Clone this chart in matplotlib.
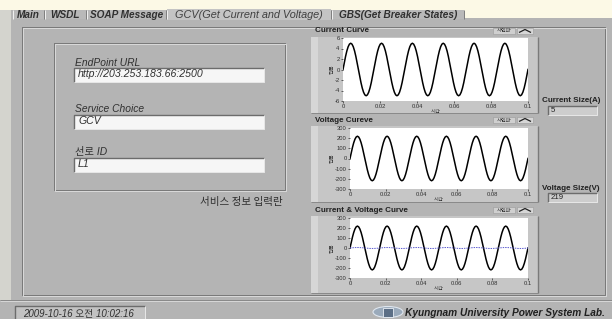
import numpy as np
import matplotlib
matplotlib.use('Agg')
import matplotlib.pyplot as plt
from matplotlib.patches import Rectangle, Ellipse

plt.rcParams['font.family'] = ['Liberation Sans', 'Noto Sans CJK KR']
KR = ['Noto Sans CJK KR', 'DejaVu Sans']

W, H = 612, 319

# one 60 Hz cycle (24 samples)
current_cycle = [0, 1.29, 2.5, 3.54, 4.33, 4.83, 5, 4.83, 4.33, 3.54, 2.5, 1.29,
                 0, -1.29, -2.5, -3.54, -4.33, -4.83, -5, -4.83, -4.33, -3.54, -2.5, -1.29]
voltage_cycle = [0, 56.7, 109.5, 154.9, 189.7, 211.5, 219, 211.5, 189.7, 154.9, 109.5, 56.7,
                 0, -56.7, -109.5, -154.9, -189.7, -211.5, -219, -211.5, -189.7, -154.9, -109.5, -56.7]
n_cycles = 6
current_a = current_cycle * n_cycles + [0]
voltage_v = voltage_cycle * n_cycles + [0]
t_end = 0.1

x_ticks = [0, 0.02, 0.04, 0.06, 0.08, 0.1]
x_tick_labels = ['0', '0.02', '0.04', '0.06', '0.08', '0.1']
current_ticks = [-6, -4, -2, 0, 2, 4, 6]
voltage_ticks = [-300, -200, -100, 0, 100, 200, 300]

tab_names = ['Main', 'WSDL', 'SOAP Message', 'GCV(Get Current and Voltage)', 'GBS(Get Breaker States)']
active_tab = 3
field_labels = ['EndPoint URL', 'Service Choice', '선로 ID']
field_values = ['http://203.253.183.66:2500', 'GCV', 'L1']
graph_titles = ['Current Curve', 'Voltage Cureve', 'Current & Voltage Curve']
current_size = '5'
voltage_size = '219'
timestamp = '2009-10-16 오전 10:02:16'
lab_name = 'Kyungnam University Power System Lab.'

PANEL = '#b4b4b4'
DARK = '#6c6c6c'
LIGHT = '#e6e6e6'

fig = plt.figure(figsize=(W / 100, H / 100), dpi=100, facecolor=PANEL)
bg = fig.add_axes([0, 0, 1, 1])
bg.set_xlim(0, W)
bg.set_ylim(H, 0)
bg.axis('off')


def rect(x0, y0, x1, y1, fc, ec='none', lw=0.7, z=1):
    bg.add_patch(Rectangle((x0, y0), x1 - x0, y1 - y0, facecolor=fc,
                           edgecolor=ec, linewidth=lw, zorder=z))


def line(xs, ys, c, lw=0.72, z=2):
    bg.plot(xs, ys, color=c, lw=lw, zorder=z, solid_capstyle='butt')


def sunken(x0, y0, x1, y1, fc):
    rect(x0, y0, x1, y1, fc)
    line([x0, x0, x1], [y1, y0, y0], DARK, 1.0)
    line([x0, x1, x1], [y1, y1, y0], LIGHT)


def etched(x0, y0, x1, y1):
    line([x0, x1, x1, x0, x0], [y0, y0, y1, y1, y0], '#7a7a7a')
    line([x0 + 1, x1 + 1, x1 + 1, x0 + 1, x0 + 1], [y0 + 1, y0 + 1, y1 + 1, y1 + 1, y0 + 1], '#d8d8d8')


def px_axes(x0, y0, x1, y1):
    return fig.add_axes([x0 / W, 1 - y1 / H, (x1 - x0) / W, (y1 - y0) / H])


# top strip (page behind the screenshot)
rect(0, 0, W, 10, '#fcf9e6')
rect(463, 0, W, 18, '#fcf9e6')

# left light strip
rect(0, 10, 11, 300, '#d4d4ce')

# tabs
tab_x = [(13, 44), (45, 86), (87, 166), (167, 331), (332, 464)]
for i, (name, (xa, xb)) in enumerate(zip(tab_names, tab_x)):
    if i == active_tab:
        rect(xa, 9, xb, 20, '#c4c4c4', z=3)
        col, wt, fs = '#404040', 'normal', 7.8
    else:
        rect(xa, 10, xb, 19, '#b9b9b9', z=2)
        col, wt, fs = '#303030', 'bold', 7.2
    line([xa, xa], [19, 10], '#f0f0f0', z=4)
    line([xb, xb], [19, 10], '#808080', z=4)
    bg.text((xa + xb) / 2, 14.5, name, fontsize=fs, style='italic', weight=wt,
            color=col, ha='center', va='center', zorder=5)

# outer frame
etched(22, 27, 605, 295)

# status bar
line([0, W], [300, 300], '#8a8a8a')
line([0, W], [301, 301], '#d6d6d6')
sunken(15, 306, 145, 320, '#c2c2c2')
bg.text(23, 313.5, timestamp, fontsize=7.0, style='italic', color='#303030', va='center')

# logo + lab name
bg.add_patch(Ellipse((388, 312), 30, 11, facecolor='#9aaabb', edgecolor='#dfe6ee', lw=0.8, zorder=3))
bg.add_patch(Rectangle((383, 308), 10, 9, facecolor='#5c6f86', edgecolor='#e8eef4', lw=0.6, zorder=4))
bg.text(405, 313.5, lab_name, fontsize=7.3, style='italic', weight='bold', color='#202020', va='center')

# service input box
etched(54, 43, 285, 190)
for i, (lab, val) in enumerate(zip(field_labels, field_values)):
    yl = [63, 110, 153][i]
    bg.text(75, yl + 2.5, lab, fontsize=7.4, style='italic', color='#303030', va='baseline')
    sunken(74, yl + 5, 264, yl + 19, '#f6f6f6')
    bg.text(78, yl + 11, val, fontsize=7.6, style='italic', color='#303030', va='center')
bg.text(283, 202, '서비스 정보 입력란', fontsize=7.6, family=KR, color='#303030',
        ha='right', va='center', style='italic')

# graph panels
panel_y = [(37, 113), (126, 202), (216, 293)]
plot_box = [(343, 38, 528, 101), (350, 128, 528, 189), (350, 218, 528, 278)]
for i, ((ya, yb), title) in enumerate(zip(panel_y, graph_titles)):
    rect(311, ya, 538, yb, '#c6c6c6')
    rect(311, ya, 318, yb, '#d6d6d6')
    line([538, 538], [ya, yb], '#7a7a7a', 1.0)
    line([311, 538], [yb, yb], '#8a8a8a')
    ty = ya - 6
    bg.text(315, ty, title, fontsize=5.8, weight='bold', color='#202020', va='center')
    # "사인파" legend button
    rect(493, ty - 3, 515, ty + 3, '#cfcfcf', ec='#9a9a9a', lw=0.4, z=3)
    bg.text(504, ty, '사인파', fontsize=3.8, family=KR, color='#303030', ha='center', va='center', zorder=4)
    rect(517, ty - 3, 533, ty + 3, '#d6d6d6', ec='#9a9a9a', lw=0.4, z=3)
    line([519, 525, 531], [ty + 1.5, ty - 1.5, ty + 1.5], '#202020', 0.9, z=4)

# right column indicators
for lab, val, yl in [('Current Size(A)', current_size, 101), ('Voltage Size(V)', voltage_size, 188)]:
    bg.text(542, yl, lab, fontsize=5.8, weight='bold', color='#202020', va='center')
    sunken(548, yl + 5, 597, yl + 14, '#cdcdcd')
    bg.text(551, yl + 9.5, val, fontsize=5.6, color='#202020', va='center')

# waveform graphs
t = np.arange(len(current_a)) * (t_end / (len(current_a) - 1))
series = [[(current_a, 'black', '-')], [(voltage_v, 'black', '-')],
          [(voltage_v, 'black', '-'), (current_a, '#5a5ad0', (0, (1.5, 1)))]]
yticks = [current_ticks, voltage_ticks, voltage_ticks]
for box, ser, yt in zip(plot_box, series, yticks):
    ax = px_axes(*box)
    ax.set_facecolor('white')
    for y, c, ls in ser:
        ax.plot(t, y, color=c, lw=1.1 if c == 'black' else 0.7, ls=ls)
    ax.set_xlim(0, t_end)
    ax.set_ylim(yt[0], yt[-1])
    ax.set_xticks(x_ticks)
    ax.set_xticklabels(x_tick_labels)
    ax.set_yticks(yt)
    ax.set_yticklabels([str(v) for v in yt])
    for s in ax.spines.values():
        s.set_visible(False)
    ax.tick_params(labelsize=4.2, length=1.5, width=0.5, pad=1, colors='#303030')
    ax.set_xlabel('시간', fontsize=3.8, family=KR, labelpad=0, color='#303030')
    ax.set_ylabel('진폭', fontsize=3.8, family=KR, labelpad=0, color='#303030')

fig.savefig('out.png', dpi=100, facecolor=PANEL)
